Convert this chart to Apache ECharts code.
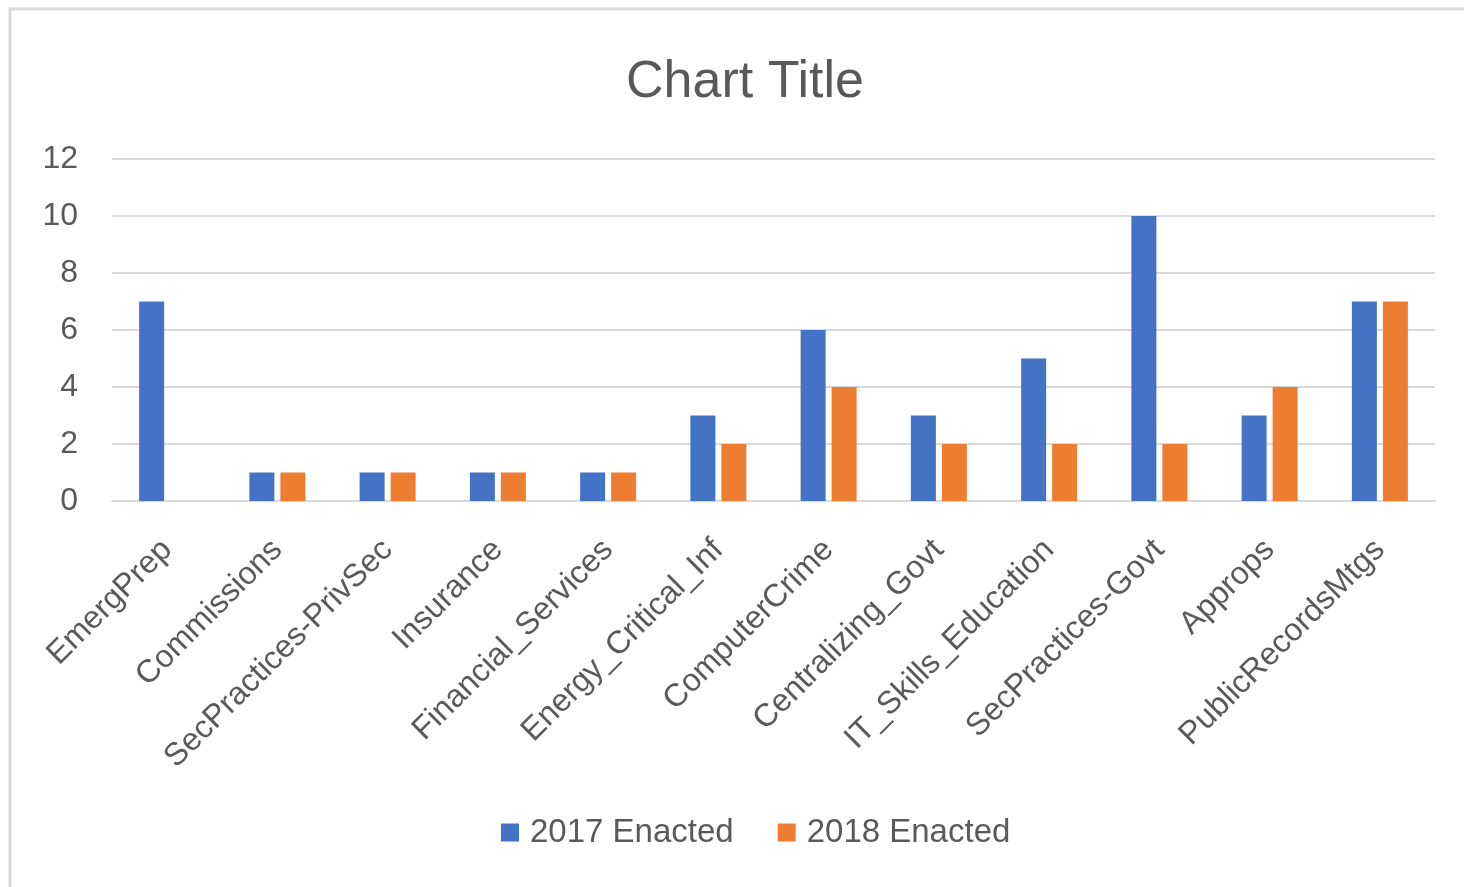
<!DOCTYPE html>
<html>
<head>
<meta charset="utf-8">
<script src="https://cdn.jsdelivr.net/npm/echarts@6/dist/echarts.min.js"></script>
<style>
html,body{margin:0;padding:0;background:#fff;}
#c{width:1464px;height:887px;}
</style>
</head>
<body>
<div id="c"></div>
<script>
const categories = ["EmergPrep","Commissions","SecPractices-PrivSec","Insurance","Financial_Services","Energy_Critical_Inf","ComputerCrime","Centralizing_Govt","IT_Skills_Education","SecPractices-Govt","Approps","PublicRecordsMtgs"];
const enacted2017 = [7,1,1,1,1,3,6,3,5,10,3,7];
const enacted2018 = [0,1,1,1,1,2,4,2,2,2,4,7];
const yTicks = {min:0, max:12, interval:2};

const font = "'Liberation Sans', 'DejaVu Sans', sans-serif";
const txt = '#595959';
const chart = echarts.init(document.getElementById('c'), null, {renderer:'canvas'});
chart.setOption({
  animation:false,
  backgroundColor:'#fff',
  graphic:[{type:'rect', shape:{x:10, y:9, width:1500, height:900}, style:{fill:'none', stroke:'#d9d9d9', lineWidth:3}, silent:true}],
  title:{text:'Chart Title', left:740, textAlign:'center', top:52, textStyle:{fontFamily:font, fontSize:52, fontWeight:'normal', color:txt}},
  legend:{bottom:33, left:496, itemWidth:18, itemHeight:18, itemGap:44, icon:'rect',
    textStyle:{fontFamily:font, fontSize:33, color:txt, padding:[0,0,0,6]}},
  grid:{left:112, right:29, top:159, bottom:386, containLabel:false},
  xAxis:{type:'category', data:categories,
    axisLine:{lineStyle:{color:'#d9d9d9', width:2}}, axisTick:{show:false},
    axisLabel:{rotate:45, interval:0, margin:44, fontFamily:font, fontSize:32, color:txt}},
  yAxis:{type:'value', min:yTicks.min, max:yTicks.max, interval:yTicks.interval,
    axisLine:{show:false}, axisTick:{show:false},
    splitLine:{lineStyle:{color:'#d9d9d9', width:2}},
    axisLabel:{margin:34, fontFamily:font, fontSize:32, color:txt}},
  series:[
    {name:'2017 Enacted', type:'bar', data:enacted2017, barWidth:25, barGap:'24%', itemStyle:{color:'#4472C4'}},
    {name:'2018 Enacted', type:'bar', data:enacted2018, barWidth:25, barGap:'24%', itemStyle:{color:'#ED7D31'}}
  ]
});
</script>
</body>
</html>
